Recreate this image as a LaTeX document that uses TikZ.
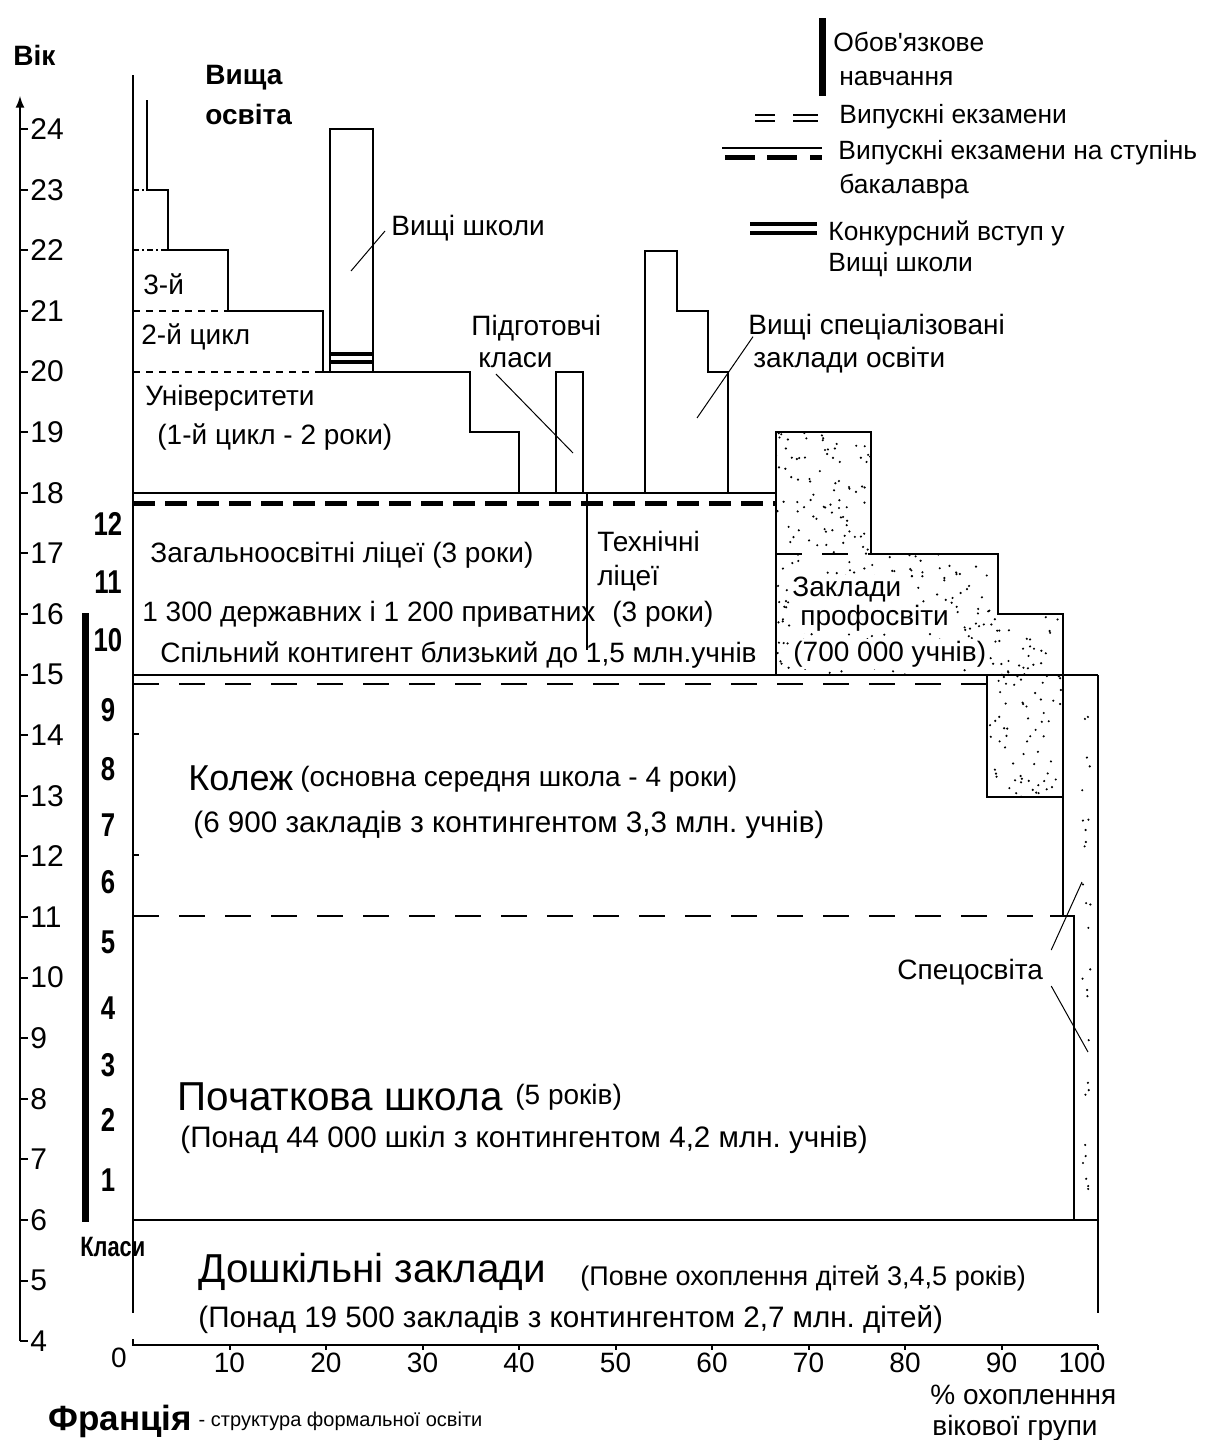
\documentclass[tikz,border=0pt]{standalone}
\usepackage{fontspec}
\setmainfont{Liberation Sans}
\newfontfamily\narrowfont[FakeStretch=0.78]{Liberation Sans}
\usetikzlibrary{positioning}
\frenchspacing

\tikzset{
  lbl/.style={anchor=west, inner sep=0pt, font=\fontsize{14}{16}\selectfont},
  leglbl/.style={anchor=west, inner sep=0pt, font=\fontsize{13.2}{16}\selectfont},
  biglbl/.style={anchor=west, inner sep=0pt, font=\fontsize{20.2}{23}\selectfont},
  smalllbl/.style={anchor=west, inner sep=0pt, font=\fontsize{13.5}{16}\selectfont},
  countlbl/.style={anchor=west, inner sep=0pt, font=\fontsize{14.8}{17}\selectfont},
  boldlbl/.style={anchor=west, inner sep=0pt, font=\fontsize{14}{16}\selectfont\bfseries},
  cls/.style={inner sep=0pt, font={\narrowfont\fontsize{16.5}{18}\selectfont\bfseries}},
  agelbl/.style={anchor=west, inner sep=0pt, font=\fontsize{15}{17}\selectfont},
  pctlbl/.style={anchor=north, inner sep=0pt, font=\fontsize{14}{16}\selectfont},
  frame/.style={line width=1pt},
  leader/.style={line width=0.5pt},
  exam/.style={line width=0.9pt, dash pattern=on 13pt off 10pt},
  bac/.style={line width=2.5pt, dash pattern=on 11pt off 5pt},
  cycle/.style={line width=0.8pt, dash pattern=on 3.5pt off 3pt},
  dashdot/.style={line width=0.8pt, dash pattern=on 3pt off 1.5pt on 1pt off 1.5pt},
  concours/.style={line width=1.6pt},
  compulsory/.style={line width=3.5pt}
}

\begin{document}
\begin{tikzpicture}[x=0.5pt, y=-0.5pt]
  \useasboundingbox[fill=white] (0,0) rectangle (1208,1440);

  % age axis
  \draw[frame,-latex] (20,1341) -- (20,96);
  \node[boldlbl] (vik) at (13,55) {Вік};
  \foreach \a in {4,...,24}{
    \pgfmathsetmacro\py{1220-(\a-6)*60.6}
    \draw[frame] (20,\py) -- (28,\py);
    \node[agelbl] (age\a) at (30,\py) {\a};
  }

  % classes
  \draw[compulsory] (85,613) -- (85,1222);
  \foreach \n/\y in {12/524,11/582,10/640,9/710,8/769,7/825,6/882,5/942,4/1008,3/1065,2/1120,1/1180}{
    \node[cls] (cl\n) at (108,\y) {\n};
  }
  \node[anchor=west, inner sep=0pt, font={\narrowfont\fontsize{14}{16}\selectfont\bfseries}] (klasy) at (80,1247) {Класи};

  % percentage axis
  \draw[frame] (133,1339) -- (133,1345) -- (1098,1345);
  \foreach \p in {10,20,...,100}{
    \pgfmathsetmacro\px{133+\p*9.65}
    \draw[frame] (\px,1345) -- (\px,1350);
  }
  \node[pctlbl] (pct0) at (119,1348) {0};
  \foreach \p in {10,20,...,90}{
    \pgfmathsetmacro\px{133+\p*9.65}
    \node[pctlbl] (pct\p) at (\px,1353) {\p};
  }
  \node[pctlbl] (pct100) at (1082,1353) {100};
  \node[lbl] (ohop1) at (930,1395) {\% охопленння};
  \node[lbl] (ohop2) at (932,1428) {вікової групи};

  % frame
  \draw[frame] (133,75) -- (133,1313);
  \draw[frame] (1098,675) -- (1098,1313);
  \draw[frame] (133,1220) -- (1098,1220);
  \draw[frame] (133,675) -- (1098,675);
  \draw[frame] (133,734) -- (139,734);
  \draw[frame] (133,855) -- (139,855);
  \draw[exam] (133,684) -- (990,684);
  \draw[exam] (133,916) -- (1050,916);
  \draw[frame] (1050,916) -- (1074,916);
  \draw[frame] (1063,614) -- (1063,916) -- (1074,916) -- (1074,1220);

  % lycees
  \draw[frame] (133,493) -- (776,493);
  \draw[bac] (133,503) -- (776,503);
  \draw[frame] (587,493) -- (587,650);

  % higher education
  \draw[frame] (147,100) -- (147,190) -- (168,190) -- (168,250) -- (228,250)
    -- (228,311) -- (323,311) -- (323,372) -- (470,372) -- (470,432)
    -- (519,432) -- (519,493);
  \draw[dashdot] (133,190) -- (147,190);
  \draw[dashdot] (133,250) -- (168,250);
  \draw[cycle] (133,311) -- (228,311);
  \draw[cycle] (133,372) -- (323,372);
  \draw[frame] (330,372) rectangle (373,129);
  \draw[concours] (330,354) -- (373,354);
  \draw[concours] (330,362) -- (373,362);
  \draw[frame] (556,493) -- (556,372) -- (583,372) -- (583,493);
  \draw[frame] (645,493) -- (645,251) -- (677,251) -- (677,311) -- (708,311)
    -- (708,372) -- (728,372) -- (728,493);

  % vocational
  \begin{scope}
    \clip (776,675) -- (776,432) -- (871,432) -- (871,554) -- (998,554) -- (998,614)
      -- (1063,614) -- (1063,797) -- (987,797) -- (987,675) -- cycle;
    \pgfmathsetseed{11}
    \foreach \i in {1,...,700}{
      \pgfmathsetmacro\sx{776+287*rnd}
      \pgfmathsetmacro\sy{432+365*rnd}
      \fill (\sx,\sy) circle (0.6pt);
    }
  \end{scope}
  \draw[frame] (776,675) -- (776,432) -- (871,432) -- (871,554) -- (998,554)
    -- (998,614) -- (1063,614) -- (1063,797) -- (987,797) -- (987,675);
  \draw[exam] (776,554) -- (871,554);
  \foreach \i in {1,...,28}{
    \pgfmathsetmacro\sx{1082+9*rnd}
    \pgfmathsetmacro\sy{690+520*rnd}
    \fill (\sx,\sy) circle (0.6pt);
  }

  % labels
  \node[boldlbl] (vyshcha1) at (205,78) {Вища};
  \node[boldlbl] (vyshcha2) at (205,114) {освіта};
  \node[lbl] (tretij) at (143,284) {3-й};
  \node[lbl] (drugij) at (141,337) {2-й цикл};
  \node[lbl] (univ1) at (145,398) {Університети};
  \node[lbl] (univ2) at (157,437) {(1-й цикл - 2 роки)};
  \node[lbl] (vsh) at (391,228) {Вищі школи};
  \coordinate (vshend) at (351,271);
  \draw[leader] ([xshift=-3pt,yshift=-1.5pt]vsh.west) -- (vshend);
  \node[lbl] (prep1) at (471,328) {Підготовчі};
  \node[lbl] (prep2) at (478,360) {класи};
  \coordinate (prepend) at (573,453);
  \draw[leader] ([xshift=9pt,yshift=-3pt]prep2.south west) -- (prepend);
  \node[lbl] (spec1) at (748,327) {Вищі спеціалізовані};
  \node[lbl] (spec2) at (753,360) {заклади освіти};
  \coordinate (specend) at (697,418);
  \draw[leader] ([yshift=5pt]spec2.north west) -- (specend);

  \node[lbl] (lic1) at (150,555) {Загальноосвітні ліцеї (3 роки)};
  \node[lbl] (lic2) at (142,614) {1 300 державних і 1 200 приватних};
  \node[lbl] (lic3) at (160,655) {Спільний контигент близький до 1,5 млн.учнів};
  \node[lbl] (tech1) at (597,541) {Технічні};
  \node[lbl] (tech2) at (597,578) {ліцеї};
  \node[lbl] (tech3) at (612,614) {(3 роки)};

  \node[lbl, fill=white, inner sep=1pt] (prof1) at (790,590) {Заклади};
  \node[lbl, fill=white, inner sep=1pt] (prof2) at (798,618) {профосвіти};
  \node[lbl, fill=white, inner sep=1pt] (prof3) at (791,654) {(700 000 учнів)};

  \node[anchor=west, inner sep=0pt, font=\fontsize{18}{21}\selectfont] (kolezh) at (188,778) {Колеж};
  \node[lbl] (kolezh2) at (300,779) {(основна середня школа - 4 роки)};
  \node[countlbl] (kolezh3) at (193,825) {(6 900 закладів з контингентом 3,3 млн. учнів)};

  \node[biglbl] (pochat) at (177,1097) {Початкова школа};
  \node[lbl] (pochat2) at (515,1097) {(5 років)};
  \node[countlbl] (pochat3) at (180,1140) {(Понад 44 000 шкіл з контингентом 4,2 млн. учнів)};

  \node[lbl] (speco) at (897,972) {Спецосвіта};
  \coordinate (specoa) at (1082,882);
  \coordinate (specob) at (1088,1052);
  \draw[leader] ([shift={(4pt,11pt)}]speco.east) -- (specoa);
  \draw[leader] ([shift={(4pt,-7pt)}]speco.east) -- (specob);

  \node[biglbl] (doshk) at (198,1272) {Дошкільні заклади};
  \node[smalllbl] (doshk2) at (580,1278) {(Повне охоплення дітей 3,4,5 років)};
  \node[countlbl] (doshk3) at (198,1320) {(Понад 19 500 закладів з контингентом 2,7 млн. дітей)};

  % legend
  \draw[compulsory] (822,18) -- (822,96);
  \node[leglbl] (leg1) at (833,42) {Обов\textquotesingle язкове};
  \node[leglbl] (leg1b) at (839,79) {навчання};
  \draw[frame] (755,115) -- (775,115) (793,115) -- (818,115);
  \draw[frame] (755,121) -- (775,121) (793,121) -- (818,121);
  \node[leglbl] (leg2) at (839,117) {Випускні екзамени};
  \draw[frame] (722,148) -- (822,148);
  \draw[line width=2.5pt] (725,157) -- (755,157) (767,157) -- (797,157) (810,157) -- (822,157);
  \node[leglbl] (leg3) at (838,153) {Випускні екзамени на ступінь};
  \node[leglbl] (leg3b) at (839,187) {бакалавра};
  \draw[concours] (750,224) -- (817,224);
  \draw[concours] (750,233) -- (817,233);
  \node[leglbl] (leg4) at (828,233) {Конкурсний вступ у};
  \node[leglbl] (leg4b) at (828,265) {Вищі школи};

  % title
  \node[anchor=west, inner sep=0pt, font=\fontsize{17.5}{20}\selectfont\bfseries] (fr) at (48,1421) {Франція};
  \node[anchor=west, inner sep=0pt, font=\fontsize{10}{12}\selectfont, right=3pt of fr] (frtitle) {- структура формальної освіти};
\end{tikzpicture}
\end{document}
